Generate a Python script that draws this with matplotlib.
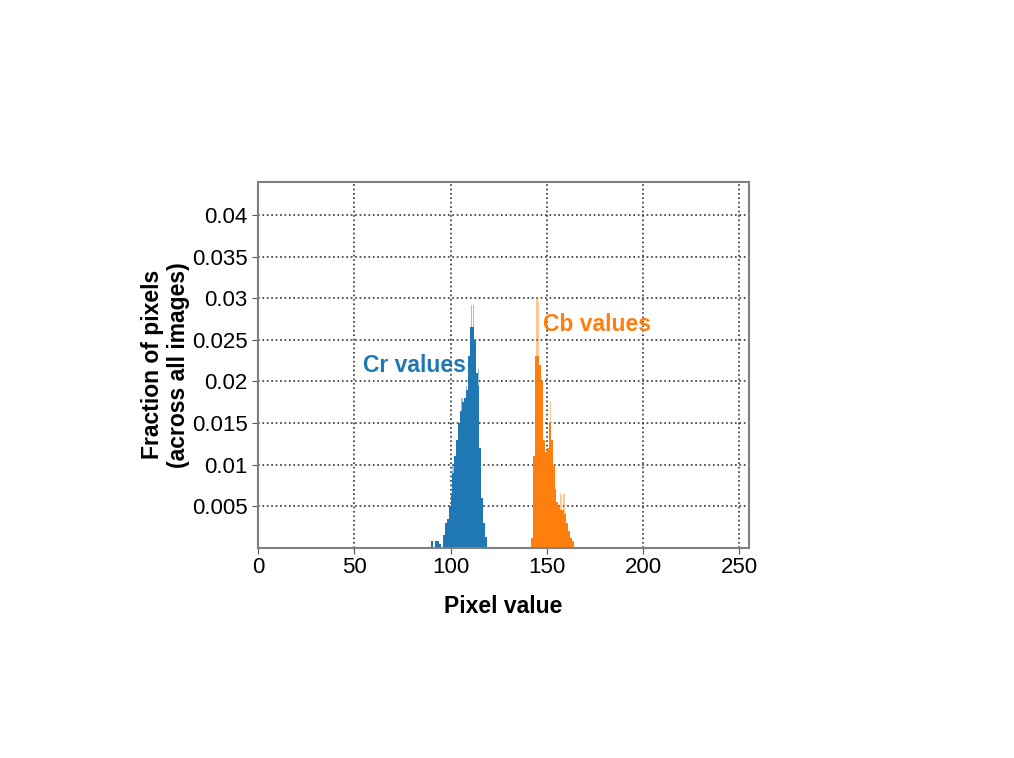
import numpy as np
import matplotlib
matplotlib.use("Agg")
import matplotlib.pyplot as plt

plt.rcParams['font.family'] = ['Liberation Sans', 'DejaVu Sans']

# histogram bins (left edge of each 1-wide bin) and fractions
cr_bins = list(range(90, 119))
cr_vals = [0.0008, 0.0, 0.0008, 0.0008, 0.0004, 0.0, 0.0015, 0.003, 0.0035, 0.005,
           0.0065, 0.009, 0.011, 0.013, 0.015, 0.0165, 0.0175, 0.018, 0.019, 0.023,
           0.0265, 0.0265, 0.025, 0.021, 0.0195, 0.012, 0.006, 0.003, 0.0013]
# lighter overshoot spikes
cr_peak_bins = [101, 105.5, 108, 110.5, 111.5, 114]
cr_peak_vals = [0.010, 0.018, 0.0195, 0.0292, 0.0292, 0.0215]

cb_bins = list(range(142, 164))
cb_vals = [0.0012, 0.011, 0.023, 0.023, 0.022, 0.020, 0.013, 0.0115, 0.012, 0.015,
           0.013, 0.010, 0.007, 0.0055, 0.005, 0.0045, 0.0045, 0.004, 0.003, 0.002,
           0.0012, 0.0008]
cb_peak_bins = [144.5, 145.3, 151.5, 157, 158.5]
cb_peak_vals = [0.0300, 0.0295, 0.0175, 0.0065, 0.0065]

blue = '#1f77b4'
orange = '#ff7f0e'

fig = plt.figure(figsize=(10.14, 7.58), dpi=100)
ax = fig.add_axes([258 / 1014, 1 - 547.6 / 758, (749 - 258) / 1014, (547.6 - 182) / 758])

ax.bar(cr_peak_bins, cr_peak_vals, width=0.8, align='edge', color=blue, alpha=0.45, linewidth=0)
ax.bar(cr_bins, cr_vals, width=1.0, align='edge', color=blue, linewidth=0)
ax.bar(cb_peak_bins, cb_peak_vals, width=0.8, align='edge', color=orange, alpha=0.45, linewidth=0)
ax.bar(cb_bins, cb_vals, width=1.0, align='edge', color=orange, linewidth=0)

ax.set_xlim(0, 255)
ax.set_ylim(0, 0.044)
ax.set_xticks([0, 50, 100, 150, 200, 250])
ax.set_yticks([0.005, 0.01, 0.015, 0.02, 0.025, 0.03, 0.035, 0.04])
ax.set_yticklabels(['0.005', '0.01', '0.015', '0.02', '0.025', '0.03', '0.035', '0.04'])
ax.tick_params(labelsize=16, color='#555555', length=4)
ax.tick_params(axis='x', pad=3)
ax.grid(True, linestyle=':', color='#333333', linewidth=1.2)
ax.set_axisbelow(True)
for s in ax.spines.values():
    s.set_color('#808080')
    s.set_linewidth(1.5)

ax.set_xlabel('Pixel value', fontsize=16.5, fontweight='bold', labelpad=12)
ax.set_ylabel('Fraction of pixels\n(across all images)', fontsize=16.5, fontweight='bold', labelpad=1)

ax.text(108, 0.0219, 'Cr values', color=blue, fontsize=16.5, fontweight='bold', ha='right', va='center')
ax.text(148, 0.0268, 'Cb values', color=orange, fontsize=16.5, fontweight='bold', ha='left', va='center')

fig.savefig('out.png', dpi=100)
